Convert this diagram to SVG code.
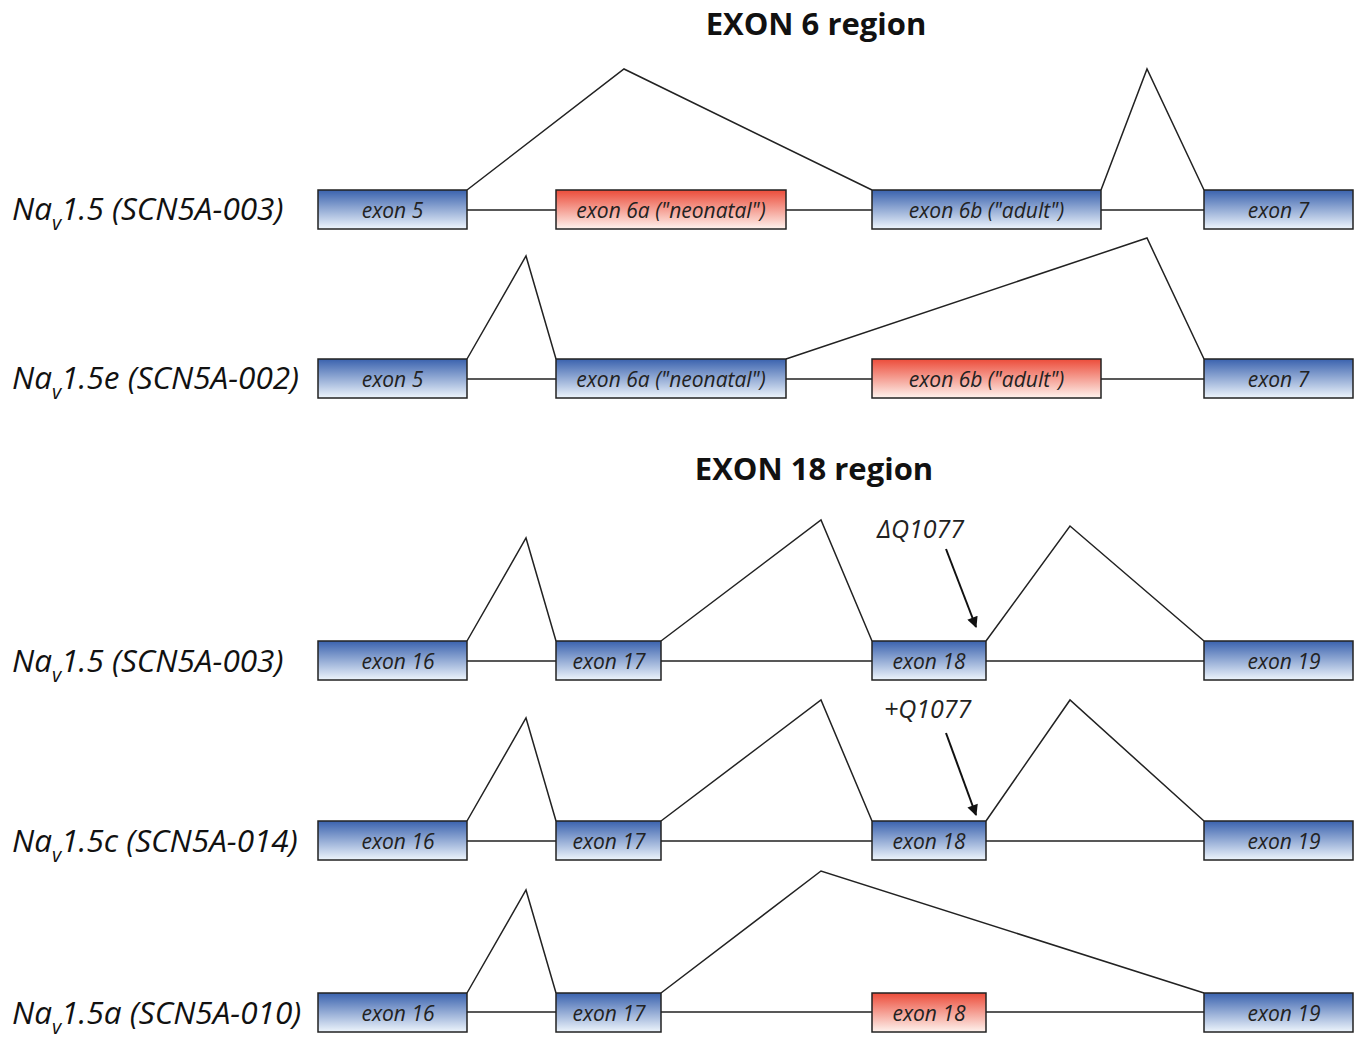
<svg xmlns="http://www.w3.org/2000/svg" width="1362" height="1040" viewBox="0 0 1362 1040">
<defs>
<linearGradient id="gb" x1="0" y1="0" x2="0" y2="1"><stop offset="0" stop-color="#3a62ae"/><stop offset="1" stop-color="#eef5fc"/></linearGradient>
<linearGradient id="gr" x1="0" y1="0" x2="0" y2="1"><stop offset="0" stop-color="#ec4c3a"/><stop offset="1" stop-color="#fef3ee"/></linearGradient>
<marker id="ah" viewBox="0 0 10 10" refX="9" refY="5" markerWidth="13" markerHeight="11" orient="auto" markerUnits="userSpaceOnUse"><path d="M0,0 L10,5 L0,10 z" fill="#111"/></marker>
</defs>
<style>
.b{fill:url(#gb);stroke:#222;stroke-width:1.5}
.r{fill:url(#gr);stroke:#222;stroke-width:1.5}
.et{font-family:"Open Sans","Liberation Sans",sans-serif;font-style:italic;font-size:21px;fill:#222;text-anchor:middle}
.rl{font-family:"Open Sans","Liberation Sans",sans-serif;font-style:italic;font-size:31.5px;fill:#111}
.t{font-family:"Open Sans","Liberation Sans",sans-serif;font-weight:bold;font-size:31px;fill:#111;text-anchor:middle}
.al{font-family:"Open Sans","Liberation Sans",sans-serif;font-style:italic;font-size:25px;fill:#222}
.ln{fill:none;stroke:#222;stroke-width:1.5}
.ar{fill:none;stroke:#111;stroke-width:2}
</style>
<text class="t" x="816" y="35">EXON 6 region</text>
<text class="t" x="814" y="480">EXON 18 region</text>
<g id="connectors">
<path class="ln" d="M467,210H556M786,210H872M1101,210H1204"/>
<path class="ln" d="M467,190L624,69L872,190M1101,190L1147,69L1204,190"/>
<path class="ln" d="M467,379H556M786,379H872M1101,379H1204"/>
<path class="ln" d="M467,359L526,256L556,359M786,359L1147,238L1204,359"/>
<path class="ln" d="M467,661H556M661,661H872M986,661H1204"/>
<path class="ln" d="M467,641L526,538L556,641M661,641L821,520L872,641M986,641L1070,526L1204,641"/>
<path class="ln" d="M467,841H556M661,841H872M986,841H1204"/>
<path class="ln" d="M467,821L526,718L556,821M661,821L821,700L872,821M986,821L1070,700L1204,821"/>
<path class="ln" d="M467,1012H556M661,1012H872M986,1012H1204"/>
<path class="ln" d="M467,993L526,890L556,993M661,993L821,871L1204,993"/>
<path class="ar" d="M946,549L976,627" marker-end="url(#ah)"/>
<path class="ar" d="M946,733L976,815" marker-end="url(#ah)"/>
</g>
<text class="al" x="877" y="538">ΔQ1077</text>
<text class="al" x="884" y="718">+Q1077</text>
<g id="row1">
<text class="rl" x="12" y="220">Na<tspan font-size="20" dy="10">v</tspan><tspan dy="-10">1.5 (SCN5A-003)</tspan></text>
<g id="r1e5"><rect class="b" x="318" y="190" width="149" height="39"/><text class="et" x="392.5" y="218">exon 5</text></g>
<g id="r1e6a"><rect class="r" x="556" y="190" width="230" height="39"/><text class="et" x="671" y="218">exon 6a ("neonatal")</text></g>
<g id="r1e6b"><rect class="b" x="872" y="190" width="229" height="39"/><text class="et" x="986.5" y="218">exon 6b ("adult")</text></g>
<g id="r1e7"><rect class="b" x="1204" y="190" width="149" height="39"/><text class="et" x="1278.5" y="218">exon 7</text></g>
</g>
<g id="row2">
<text class="rl" x="12" y="389">Na<tspan font-size="20" dy="10">v</tspan><tspan dy="-10">1.5e (SCN5A-002)</tspan></text>
<g id="r2e5"><rect class="b" x="318" y="359" width="149" height="39"/><text class="et" x="392.5" y="387">exon 5</text></g>
<g id="r2e6a"><rect class="b" x="556" y="359" width="230" height="39"/><text class="et" x="671" y="387">exon 6a ("neonatal")</text></g>
<g id="r2e6b"><rect class="r" x="872" y="359" width="229" height="39"/><text class="et" x="986.5" y="387">exon 6b ("adult")</text></g>
<g id="r2e7"><rect class="b" x="1204" y="359" width="149" height="39"/><text class="et" x="1278.5" y="387">exon 7</text></g>
</g>
<g id="row3">
<text class="rl" x="12" y="672">Na<tspan font-size="20" dy="10">v</tspan><tspan dy="-10">1.5 (SCN5A-003)</tspan></text>
<g id="r3e16"><rect class="b" x="318" y="641" width="149" height="39"/><text class="et" x="398" y="669">exon 16</text></g>
<g id="r3e17"><rect class="b" x="556" y="641" width="105" height="39"/><text class="et" x="609" y="669">exon 17</text></g>
<g id="r3e18"><rect class="b" x="872" y="641" width="114" height="39"/><text class="et" x="929" y="669">exon 18</text></g>
<g id="r3e19"><rect class="b" x="1204" y="641" width="149" height="39"/><text class="et" x="1284" y="669">exon 19</text></g>
</g>
<g id="row4">
<text class="rl" x="12" y="852">Na<tspan font-size="20" dy="10">v</tspan><tspan dy="-10">1.5c (SCN5A-014)</tspan></text>
<g id="r4e16"><rect class="b" x="318" y="821" width="149" height="39"/><text class="et" x="398" y="849">exon 16</text></g>
<g id="r4e17"><rect class="b" x="556" y="821" width="105" height="39"/><text class="et" x="609" y="849">exon 17</text></g>
<g id="r4e18"><rect class="b" x="872" y="821" width="114" height="39"/><text class="et" x="929" y="849">exon 18</text></g>
<g id="r4e19"><rect class="b" x="1204" y="821" width="149" height="39"/><text class="et" x="1284" y="849">exon 19</text></g>
</g>
<g id="row5">
<text class="rl" x="12" y="1024">Na<tspan font-size="20" dy="10">v</tspan><tspan dy="-10">1.5a (SCN5A-010)</tspan></text>
<g id="r5e16"><rect class="b" x="318" y="993" width="149" height="39"/><text class="et" x="398" y="1021">exon 16</text></g>
<g id="r5e17"><rect class="b" x="556" y="993" width="105" height="39"/><text class="et" x="609" y="1021">exon 17</text></g>
<g id="r5e18"><rect class="r" x="872" y="993" width="114" height="39"/><text class="et" x="929" y="1021">exon 18</text></g>
<g id="r5e19"><rect class="b" x="1204" y="993" width="149" height="39"/><text class="et" x="1284" y="1021">exon 19</text></g>
</g>
</svg>
